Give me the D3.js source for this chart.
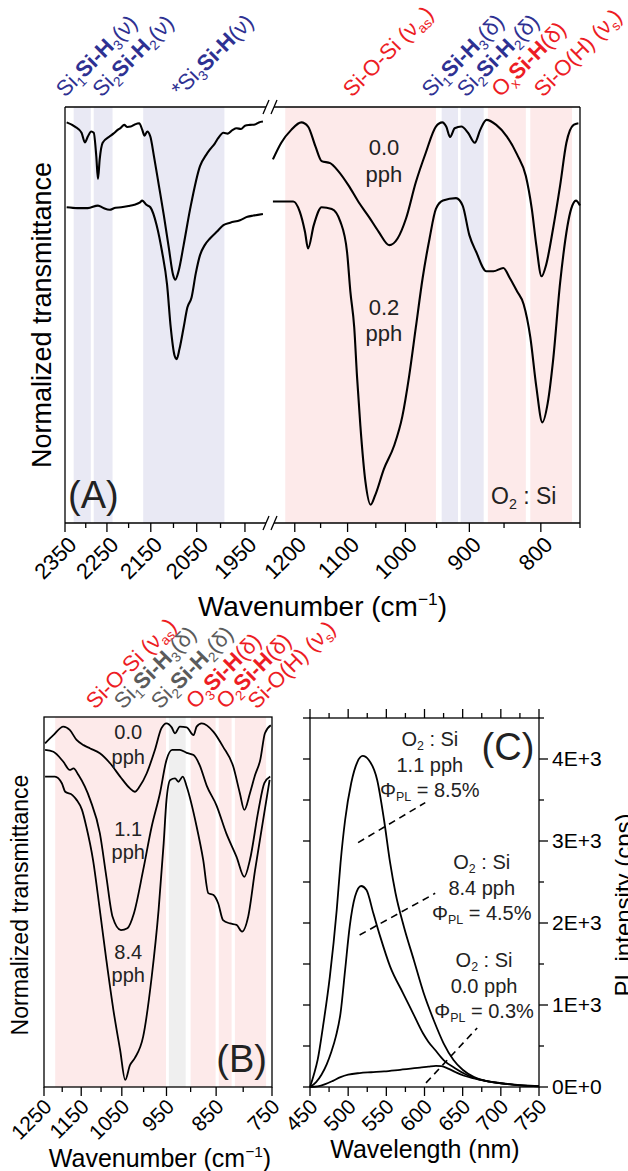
<!DOCTYPE html>
<html>
<head>
<meta charset="utf-8">
<script src="https://cdn.jsdelivr.net/npm/d3@7"></script>
<style>
  body { margin: 0; background: #fff; }
  svg { display: block; }
</style>
</head>
<body>
<svg id="fig" width="628" height="1171"></svg>
<script>
// ---------------- data ----------------
// Panel A: normalized transmittance, O2:Si = 0.0 and 0.2 pph, broken wavenumber axis
const a00Left = [[2346,.963],[2326,.953],[2310,.938],[2302,.915],[2295,.929],[2287,.941],[2281,.938],[2275,.882],[2271,.827],[2267,.874],[2260,.914],[2244,.929],[2235,.936],[2225,.945],[2218,.950],[2210,.957],[2203,.952],[2195,.953],[2186,.958],[2176,.961],[2169,.945],[2164,.931],[2158,.941],[2151,.929],[2143,.882],[2132,.811],[2121,.739],[2110,.660],[2101,.597],[2096,.585],[2089,.605],[2078,.668],[2064,.755],[2043,.858],[2030,.885],[2022,.898],[2012,.912],[2005,.925],[1994,.938],[1985,.936],[1975,.945],[1967,.949],[1958,.947],[1950,.955],[1940,.957],[1930,.958],[1922,.963],[1914,.965]];
const a00Right = [[1244,.874],[1227,.914],[1207,.945],[1187,.963],[1174,.953],[1160,.906],[1148,.870],[1132,.865],[1117,.846],[1098,.811],[1080,.771],[1062,.736],[1045,.700],[1027,.668],[1013,.684],[999,.732],[983,.819],[967,.890],[951,.953],[941,.963],[935,.953],[929,.928],[922,.949],[912,.953],[902,.938],[892,.914],[884,.945],[875,.969],[861,.957],[846,.929],[832,.886],[820,.834],[812,.755],[806,.668],[799,.593],[793,.621],[784,.708],[775,.811],[767,.914],[758,.957],[752,.961]];
const a02Left = [[2346,.759],[2320,.757],[2295,.757],[2271,.763],[2258,.757],[2244,.753],[2230,.758],[2217,.759],[2200,.762],[2187,.765],[2175,.770],[2169,.775],[2160,.765],[2151,.759],[2137,.716],[2125,.652],[2114,.573],[2106,.470],[2098,.404],[2093,.394],[2087,.418],[2078,.470],[2070,.518],[2061,.542],[2052,.600],[2043,.644],[2033,.668],[2022,.684],[2008,.700],[1994,.716],[1980,.722],[1960,.728],[1945,.736],[1933,.739],[1914,.743]];
const a02Right = [[1244,.773],[1203,.773],[1190,.748],[1180,.700],[1174,.660],[1163,.716],[1148,.759],[1129,.755],[1113,.724],[1101,.652],[1095,.557],[1088,.470],[1083,.352],[1077,.233],[1068,.098],[1059,.044],[1051,.067],[1036,.130],[1019,.185],[1005,.257],[994,.352],[983,.470],[972,.589],[961,.684],[951,.755],[940,.775],[920,.781],[910,.763],[900,.692],[890,.652],[875,.605],[865,.605],[851,.613],[842,.589],[832,.557],[823,.526],[814,.447],[806,.328],[798,.242],[791,.288],[784,.391],[775,.577],[761,.755],[755,.775],[750,.763]];
const bandsA = [[2329,2288,"lav"],[2281,2237,"lav"],[2167,1992,"lav"],[1219,951,"pink"],[942,917,"lav"],[913,879,"lav"],[873,820,"pink"],[814,760,"pink"]];
const ticksAMajor = [2350,2250,2150,2050,1950,1200,1100,1000,900,800];
const ticksAMinor = [2300,2200,2100,2000,1150,1050,950,850,750];

// Panel B: O2:Si = 0.0, 1.1, 8.4 pph
const b00 = [[1247,.929],[1224,.951],[1197,.974],[1180,.965],[1162,.938],[1144,.924],[1127,.915],[1103,.902],[1078,.875],[1054,.839],[1031,.807],[1020,.798],[1009,.812],[993,.848],[975,.911],[961,.969],[950,.983],[939,.972],[932,.956],[922,.974],[908,.972],[894,.951],[888,.974],[878,.983],[855,.960],[837,.920],[818,.866],[806,.794],[798,.749],[788,.794],[779,.843],[770,.884],[762,.956],[752,.978]];
const b11 = [[1247,.911],[1224,.906],[1197,.879],[1180,.857],[1170,.861],[1157,.843],[1127,.776],[1103,.686],[1087,.568],[1072,.460],[1052,.424],[1037,.429],[1022,.469],[1001,.586],[982,.704],[964,.794],[950,.884],[938,.911],[922,.911],[908,.903],[894,.897],[882,.870],[868,.814],[849,.760],[831,.686],[812,.622],[798,.568],[788,.614],[773,.749],[763,.821],[753,.839]];
const b84 = [[1247,.839],[1220,.839],[1201,.821],[1192,.798],[1173,.789],[1162,.776],[1148,.749],[1137,.704],[1120,.614],[1103,.478],[1087,.343],[1070,.208],[1054,.100],[1042,.019],[1031,.059],[1020,.078],[1001,.136],[982,.298],[967,.478],[956,.659],[950,.776],[942,.830],[932,.834],[925,.825],[916,.839],[908,.812],[888,.704],[875,.614],[865,.524],[855,.519],[846,.496],[837,.451],[824,.442],[812,.438],[802,.420],[791,.461],[779,.586],[765,.722],[754,.830]];
const bandsB = [[1219,951,"pink"],[945,910,"grey"],[900,851,"pink"],[845,821,"pink"],[815,760,"pink"]];
const ticksBMajor = [1250,1150,1050,950,850,750];
const ticksBMinor = [1200,1100,1000,900,800];

// Panel C: PL spectra (cps) vs wavelength (nm)
const pl11 = [[450,0],[455,150],[460,330],[467,737],[476,1346],[485,2158],[490,2732],[496,3256],[504,3707],[512,3963],[519,4037],[527,3988],[538,3744],[547,3256],[555,2732],[562,2366],[573,1955],[586,1549],[599,1143],[612,817],[625,533],[638,329],[650,210],[665,120],[680,75],[700,45],[725,20],[750,8]];
const pl84 = [[450,0],[458,60],[465,150],[472,280],[478,430],[484,620],[490,900],[496,1427],[502,1956],[509,2322],[517,2451],[524,2402],[533,2118],[542,1834],[555,1468],[572,1143],[585,899],[598,655],[605,553],[614,451],[625,329],[640,230],[655,150],[670,95],[685,65],[700,45],[725,20],[750,8]];
const pl00 = [[450,0],[460,8],[470,35],[480,75],[490,120],[500,150],[515,170],[530,180],[547,190],[568,210],[594,235],[605,248],[615,258],[622,255],[631,225],[641,180],[652,137],[663,108],[673,88],[686,65],[699,49],[712,35],[725,24],[738,16],[750,10]];
const leadersC = [[[513,2980],[601,3468]],[[515,1854],[614,2362]],[[602,50],[669,720]]];
const ratiosC = ["1.1 pph","8.4 pph","0.0 pph"];
const qyC = ["8.5%","4.5%","0.3%"];

// Band labels: [text, style] parts ("s" = subscript, "b" = bold)
const labelsA = [
  [2350, "blue", [["Si",""],["1","s"],["Si-H","b"],["3","s"],["(ν)",""]]],
  [2263, "blue", [["Si",""],["2","s"],["Si-H","b"],["2","s"],["(ν)",""]]],
  [2085, "blue", [["*Si",""],["3","s"],["Si-H","b"],["(ν)",""]]],
  [1092, "red",  [["Si-O-Si (ν",""],["as","s"],[")",""]]],
  [959,  "blue", [["Si",""],["1","s"],["Si-H","b"],["3","s"],["(δ)",""]]],
  [905,  "blue", [["Si",""],["2","s"],["Si-H","b"],["2","s"],["(δ)",""]]],
  [855,  "red",  [["O",""],["x","s"],["Si-H","b"],["(δ)",""]]],
  [797,  "red",  [["Si-O(H) (ν",""],["s","s"],[")",""]]]
];
const labelsB = [
  [1115, "red",  [["Si-O-Si (ν",""],["as","s"],[")",""]]],
  [1047, "grey", [["Si",""],["1","s"],["Si-H","b"],["3","s"],["(δ)",""]]],
  [964,  "grey", [["Si",""],["2","s"],["Si-H","b"],["2","s"],["(δ)",""]]],
  [891,  "red",  [["O",""],["3","s"],["Si-H","b"],["(δ)",""]]],
  [833,  "red",  [["O",""],["2","s"],["Si-H","b"],["(δ)",""]]],
  [776,  "red",  [["Si-O(H) (ν",""],["s","s"],[")",""]]]
];

// ---------------- drawing ----------------
const FONT = "'Liberation Sans', Arial, Helvetica, sans-serif";
const COL = { blue: "#2e3192", red: "#ed1c24", grey: "#5b5b5b" };
const FILL = { pink: "#fdeaea", lav: "#e9e9f4", grey: "#efefef" };

const svg = d3.select("#fig").style("font-family", FONT);

// Write text made of parts with sub/superscripts
function rich(sel, parts, fs) {
  let cur = 0;
  parts.forEach(([str, st]) => {
    const sub = st.includes("s"), sup = st.includes("u");
    const shift = sub ? fs * 0.22 : sup ? -fs * 0.4 : 0;
    const ts = sel.append("tspan").text(str)
      .attr("font-size", sub || sup ? fs * 0.62 : fs)
      .attr("font-weight", st.includes("b") ? "bold" : "normal");
    if (shift !== cur) { ts.attr("dy", shift - cur); cur = shift; }
  });
  return sel;
}

function line(g, x1, y1, x2, y2, w) {
  g.append("line").attr("x1", x1).attr("y1", y1).attr("x2", x2).attr("y2", y2)
    .attr("stroke", "#000").attr("stroke-width", w || 1.3);
}

function rotLabel(g, x, y, str, fs) {
  g.append("text").attr("transform", `translate(${x},${y}) rotate(-45)`)
    .attr("text-anchor", "end").attr("font-size", fs).text(str);
}

// ---- Panel A ----
const A = { l: 65, r: 580, t: 107, b: 523, brk: 270 };
const xA1 = d3.scaleLog().domain([2350, 1900]).range([A.l, A.brk]);
const xA2 = d3.scaleLog().domain([1250, 750]).range([A.brk, A.r]);
const xA = v => v > 1500 ? xA1(v) : xA2(v);
const yA = d3.scaleLinear().domain([0, 1]).range([A.b, A.t]);
const gA = svg.append("g");

bandsA.forEach(([a, b, k]) => {
  gA.append("rect").attr("x", xA(a)).attr("width", xA(b) - xA(a))
    .attr("y", A.t).attr("height", A.b - A.t).attr("fill", FILL[k]);
});

const lineA = d3.line().x(d => xA(d[0])).y(d => yA(d[1])).curve(d3.curveMonotoneX);
[a00Left, a00Right, a02Left, a02Right].forEach(s => {
  gA.append("path").attr("d", lineA(s)).attr("fill", "none")
    .attr("stroke", "#000").attr("stroke-width", 2.1);
});

// frame with axis break
[A.t, A.b].forEach(y => {
  line(gA, A.l, y, A.brk - 4, y);
  line(gA, A.brk + 4, y, A.r, y);
  [-4, 4].forEach(o => line(gA, A.brk + o - 3, y + 7, A.brk + o + 3, y - 7));
});
line(gA, A.l, A.t, A.l, A.b);
line(gA, A.r, A.t, A.r, A.b);

ticksAMajor.forEach(v => {
  line(gA, xA(v), A.b, xA(v), A.b + 9);
  rotLabel(gA, xA(v) + 13, A.b + 23, v, 22);
});
ticksAMinor.forEach(v => line(gA, xA(v), A.b, xA(v), A.b + 5));

rich(gA.append("text").attr("x", (A.l + A.r) / 2).attr("y", 616)
  .attr("text-anchor", "middle"), [["Wavenumber (cm",""],["−1","u"],[")",""]], 28);
gA.append("text").attr("transform", "translate(51,315) rotate(-90)")
  .attr("text-anchor", "middle").attr("font-size", 27).text("Normalized transmittance");

labelsA.forEach(([v, c, parts]) => {
  rich(gA.append("text").attr("transform", `translate(${xA(v)},${A.t - 9}) rotate(-45)`)
    .attr("fill", COL[c]), parts, 22);
});

[["0.0", 155], ["pph", 182], ["0.2", 315], ["pph", 341]].forEach(([s, y]) => {
  gA.append("text").attr("x", xA2(1036)).attr("y", y).attr("text-anchor", "middle")
    .attr("font-size", 22).attr("fill", "#222").text(s);
});
gA.append("text").attr("x", 68).attr("y", 508).attr("font-size", 38).attr("fill", "#222").text("(A)");
rich(gA.append("text").attr("x", 491).attr("y", 504).attr("fill", "#222"),
  [["O",""],["2","s"],[" : Si",""]], 23);

// ---- Panel B ----
const B = { l: 44, r: 272, t: 717, b: 1087 };
const xB = d3.scaleLog().domain([1250, 750]).range([B.l, B.r]);
const yB = d3.scaleLinear().domain([0, 1]).range([B.b, B.t]);
const gB = svg.append("g");

bandsB.forEach(([a, b, k]) => {
  gB.append("rect").attr("x", xB(a)).attr("width", xB(b) - xB(a))
    .attr("y", B.t).attr("height", B.b - B.t).attr("fill", FILL[k]);
});
const lineB = d3.line().x(d => xB(d[0])).y(d => yB(d[1])).curve(d3.curveMonotoneX);
[b00, b11, b84].forEach(s => {
  gB.append("path").attr("d", lineB(s)).attr("fill", "none")
    .attr("stroke", "#000").attr("stroke-width", 1.8);
});
gB.append("rect").attr("x", B.l).attr("y", B.t).attr("width", B.r - B.l).attr("height", B.b - B.t)
  .attr("fill", "none").attr("stroke", "#000").attr("stroke-width", 1.3);

ticksBMajor.forEach(v => {
  line(gB, xB(v), B.b, xB(v), B.b + 9);
  rotLabel(gB, xB(v) + 9, B.b + 21, v, 21);
});
ticksBMinor.forEach(v => line(gB, xB(v), B.b, xB(v), B.b + 5));

rich(gB.append("text").attr("x", (B.l + B.r) / 2 + 2).attr("y", 1167)
  .attr("text-anchor", "middle"), [["Wavenumber (cm",""],["−1","u"],[")",""]], 25);
gB.append("text").attr("transform", "translate(28,905) rotate(-90)")
  .attr("text-anchor", "middle").attr("font-size", 23).text("Normalized transmittance");

labelsB.forEach(([v, c, parts]) => {
  rich(gB.append("text").attr("transform", `translate(${xB(v)},${B.t - 7}) rotate(-45)`)
    .attr("fill", COL[c]), parts, 22);
});

[["0.0", 739], ["pph", 764], ["1.1", 836], ["pph", 859], ["8.4", 959], ["pph", 982]].forEach(([s, y]) => {
  gB.append("text").attr("x", xB(1035)).attr("y", y).attr("text-anchor", "middle")
    .attr("font-size", 20).attr("fill", "#222").text(s);
});
gB.append("text").attr("x", 267).attr("y", 1072).attr("text-anchor", "end")
  .attr("font-size", 38).attr("fill", "#222").text("(B)");

// ---- Panel C ----
const C = { l: 310, r: 539, t: 718, b: 1087 };
const xC = d3.scaleLinear().domain([450, 750]).range([C.l, C.r]);
const yC = d3.scaleLinear().domain([0, 4500]).range([C.b, C.t]);
const gC = svg.append("g");

const lineC = d3.line().x(d => xC(d[0])).y(d => yC(d[1])).curve(d3.curveMonotoneX);
[pl11, pl84, pl00].forEach(s => {
  gC.append("path").attr("d", lineC(s)).attr("fill", "none")
    .attr("stroke", "#000").attr("stroke-width", 1.8);
});
leadersC.forEach(([p, q]) => {
  gC.append("line").attr("x1", xC(p[0])).attr("y1", yC(p[1])).attr("x2", xC(q[0])).attr("y2", yC(q[1]))
    .attr("stroke", "#000").attr("stroke-width", 1.6).attr("stroke-dasharray", "7,5");
});
gC.append("rect").attr("x", C.l).attr("y", C.t).attr("width", C.r - C.l).attr("height", C.b - C.t)
  .attr("fill", "none").attr("stroke", "#000").attr("stroke-width", 1.3);

d3.range(450, 751, 25).forEach(v => {
  const len = v % 50 === 0 ? 9 : 5;
  line(gC, xC(v), C.b, xC(v), C.b + len);
  line(gC, xC(v), C.t, xC(v), C.t - len);
  if (v % 50 === 0) rotLabel(gC, xC(v) + 9, C.b + 21, v, 21);
});
d3.range(0, 4501, 500).forEach(v => {
  line(gC, C.l, yC(v), C.l - 7, yC(v));
  const len = v % 1000 === 0 ? 9 : 5;
  line(gC, C.r, yC(v), C.r + len, yC(v));
  if (v % 1000 === 0) {
    gC.append("text").attr("x", C.r + 13).attr("y", yC(v) + 7).attr("font-size", 21)
      .text(v === 0 ? "0E+0" : `${v / 1000}E+3`);
  }
});
gC.append("text").attr("x", 425).attr("y", 1158).attr("text-anchor", "middle")
  .attr("font-size", 25).text("Wavelength (nm)");
gC.append("text").attr("transform", "translate(632,905) rotate(-90)")
  .attr("text-anchor", "middle").attr("font-size", 24).text("PL intensity (cps)");
gC.append("text").attr("x", 508).attr("y", 760).attr("text-anchor", "middle")
  .attr("font-size", 38).attr("fill", "#222").text("(C)");

const blockPos = [[607, 4158], [675, 2658], [678, 1463]];
blockPos.forEach(([nm, c], i) => {
  const x = xC(nm), y0 = yC(c);
  const lines = [
    [["O",""],["2","s"],[" : Si",""]],
    [[ratiosC[i],""]],
    [["Φ",""],["PL","s"],[" = " + qyC[i],""]]
  ];
  lines.forEach((parts, k) => {
    rich(gC.append("text").attr("x", x).attr("y", y0 + k * 25.5).attr("text-anchor", "middle")
      .attr("fill", "#222"), parts, 20);
  });
});
</script>
</body>
</html>
